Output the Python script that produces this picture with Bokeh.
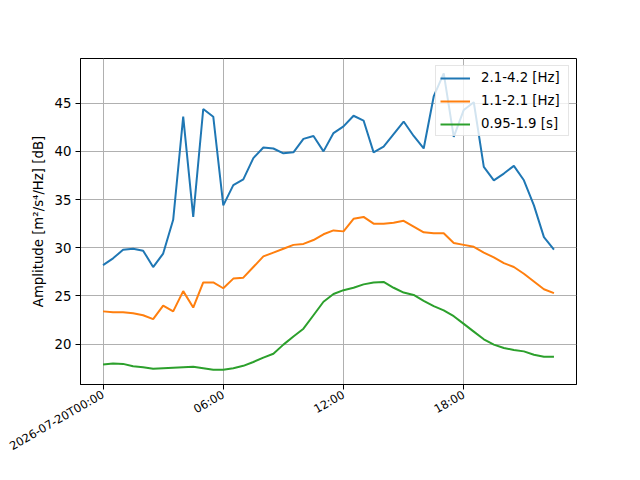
import pandas as pd
from bokeh.plotting import figure
from bokeh.models import Range1d, FixedTicker, Legend, LegendItem
from bokeh.embed import file_html
from bokeh.resources import INLINE
import math

start = "2026-07-20 00:00"
n_points = 46
times = pd.date_range(start, periods=n_points, freq="30min")

band_hi = [28.2, 28.9, 29.8, 29.9, 29.7, 28.0, 29.4, 32.9, 43.6, 33.2,
           44.4, 43.6, 34.4, 36.5, 37.1, 39.3, 40.4, 40.3, 39.8, 39.9,
           41.3, 41.6, 40.0, 41.9, 42.6, 43.7, 43.2, 39.9, 40.5, 41.8,
           43.1, 41.6, 40.3, 45.7, 48.1, 41.5, 44.3, 45.1, 38.4, 37.0,
           37.7, 38.5, 37.0, 34.4, 31.1, 29.8]
band_mid = [23.4, 23.3, 23.3, 23.2, 23.0, 22.6, 24.0, 23.4, 25.5, 23.8,
            26.4, 26.4, 25.8, 26.8, 26.9, 28.0, 29.1, 29.5, 29.9, 30.3,
            30.4, 30.8, 31.4, 31.8, 31.7, 33.0, 33.2, 32.5, 32.5, 32.6,
            32.8, 32.2, 31.6, 31.5, 31.5, 30.5, 30.3, 30.1, 29.5, 29.0,
            28.4, 28.0, 27.3, 26.5, 25.7, 25.3]
band_low = [17.9, 18.0, 17.95, 17.7, 17.6, 17.45, 17.5, 17.55, 17.6, 17.65,
            17.5, 17.35, 17.35, 17.5, 17.75, 18.15, 18.6, 19.0, 19.95, 20.8,
            21.6, 23.0, 24.4, 25.2, 25.6, 25.85, 26.2, 26.4, 26.45, 25.85,
            25.35, 25.1, 24.5, 23.95, 23.5, 22.9, 22.1, 21.3, 20.5, 19.95,
            19.6, 19.4, 19.25, 18.9, 18.7, 18.7]
labels = ["2.1-4.2 [Hz]", "1.1-2.1 [Hz]", "0.95-1.9 [s]"]
colors = ["#1f77b4", "#ff7f0e", "#2ca02c"]
tick_hours = [0, 6, 12, 18]
tick_labels = ["2026-07-20T00:00", "06:00", "12:00", "18:00"]
y_ticks = [20, 25, 30, 35, 40, 45]

t0 = pd.Timestamp(start)
def ms(ts):
    return (ts - pd.Timestamp("1970-01-01")).total_seconds() * 1000.0

span = times[-1] - times[0]
x_start = ms(times[0] - span * 0.05)
x_end = ms(times[-1] + span * 0.05)
allv = band_hi + band_mid + band_low
ymin, ymax = min(allv), max(allv)
yr = ymax - ymin

p = figure(width=624, height=464, x_axis_type="datetime",
           output_backend="svg", toolbar_location=None,
           x_range=Range1d(x_start, x_end),
           y_range=Range1d(ymin - 0.05 * yr, ymax + 0.05 * yr),
           min_border_left=80, min_border_right=48,
           min_border_top=58, min_border_bottom=80)

renderers = []
for vals, c in zip([band_hi, band_mid, band_low], colors):
    r = p.line(times, vals, line_color=c, line_width=2)
    renderers.append(r)

tick_ms = [ms(t0 + pd.Timedelta(hours=h)) for h in tick_hours]
p.xaxis.ticker = FixedTicker(ticks=tick_ms)
p.xaxis.major_label_overrides = {t: l for t, l in zip(tick_ms, tick_labels)}
p.xaxis.major_label_orientation = math.pi / 6
p.xaxis.major_label_text_font_size = "11.5px"
p.yaxis.ticker = FixedTicker(ticks=y_ticks)
p.yaxis.major_label_text_font_size = "13.3px"
p.yaxis.axis_label = "Amplitude [m²/s⁴/Hz] [dB]"
p.yaxis.axis_label_text_font_style = "normal"
p.yaxis.axis_label_text_font_size = "13.3px"
p.yaxis.axis_label_text_font = "DejaVu Sans"
p.yaxis.axis_label_text_color = "black"
p.yaxis.axis_label_standoff = 6

for ax in [p.xaxis, p.yaxis]:
    ax.major_label_text_font = "DejaVu Sans"
    ax.major_label_text_color = "black"
    ax.axis_line_color = "black"
    ax.major_tick_line_color = "black"
    ax.major_tick_out = 5
    ax.major_tick_in = 0
    ax.minor_tick_line_color = None
    ax.major_label_standoff = 4

p.grid.grid_line_color = "#b0b0b0"
p.grid.grid_line_width = 1
p.outline_line_color = "black"
p.outline_line_width = 1
p.background_fill_color = "white"
p.border_fill_color = "white"

legend = Legend(items=[LegendItem(label=l, renderers=[r]) for l, r in zip(labels, renderers)],
                location="top_right")
legend.margin = 7
legend.padding = 4
legend.spacing = 8
legend.glyph_width = 30
legend.glyph_height = 14
legend.label_height = 14
legend.label_width = 83
legend.label_standoff = 11
legend.label_text_font = "DejaVu Sans"
legend.label_text_font_size = "13.3px"
legend.label_text_color = "black"
legend.border_line_color = "#cccccc"
legend.background_fill_alpha = 0.8
p.add_layout(legend, "center")

open("out.html", "w").write(file_html(p, INLINE))
